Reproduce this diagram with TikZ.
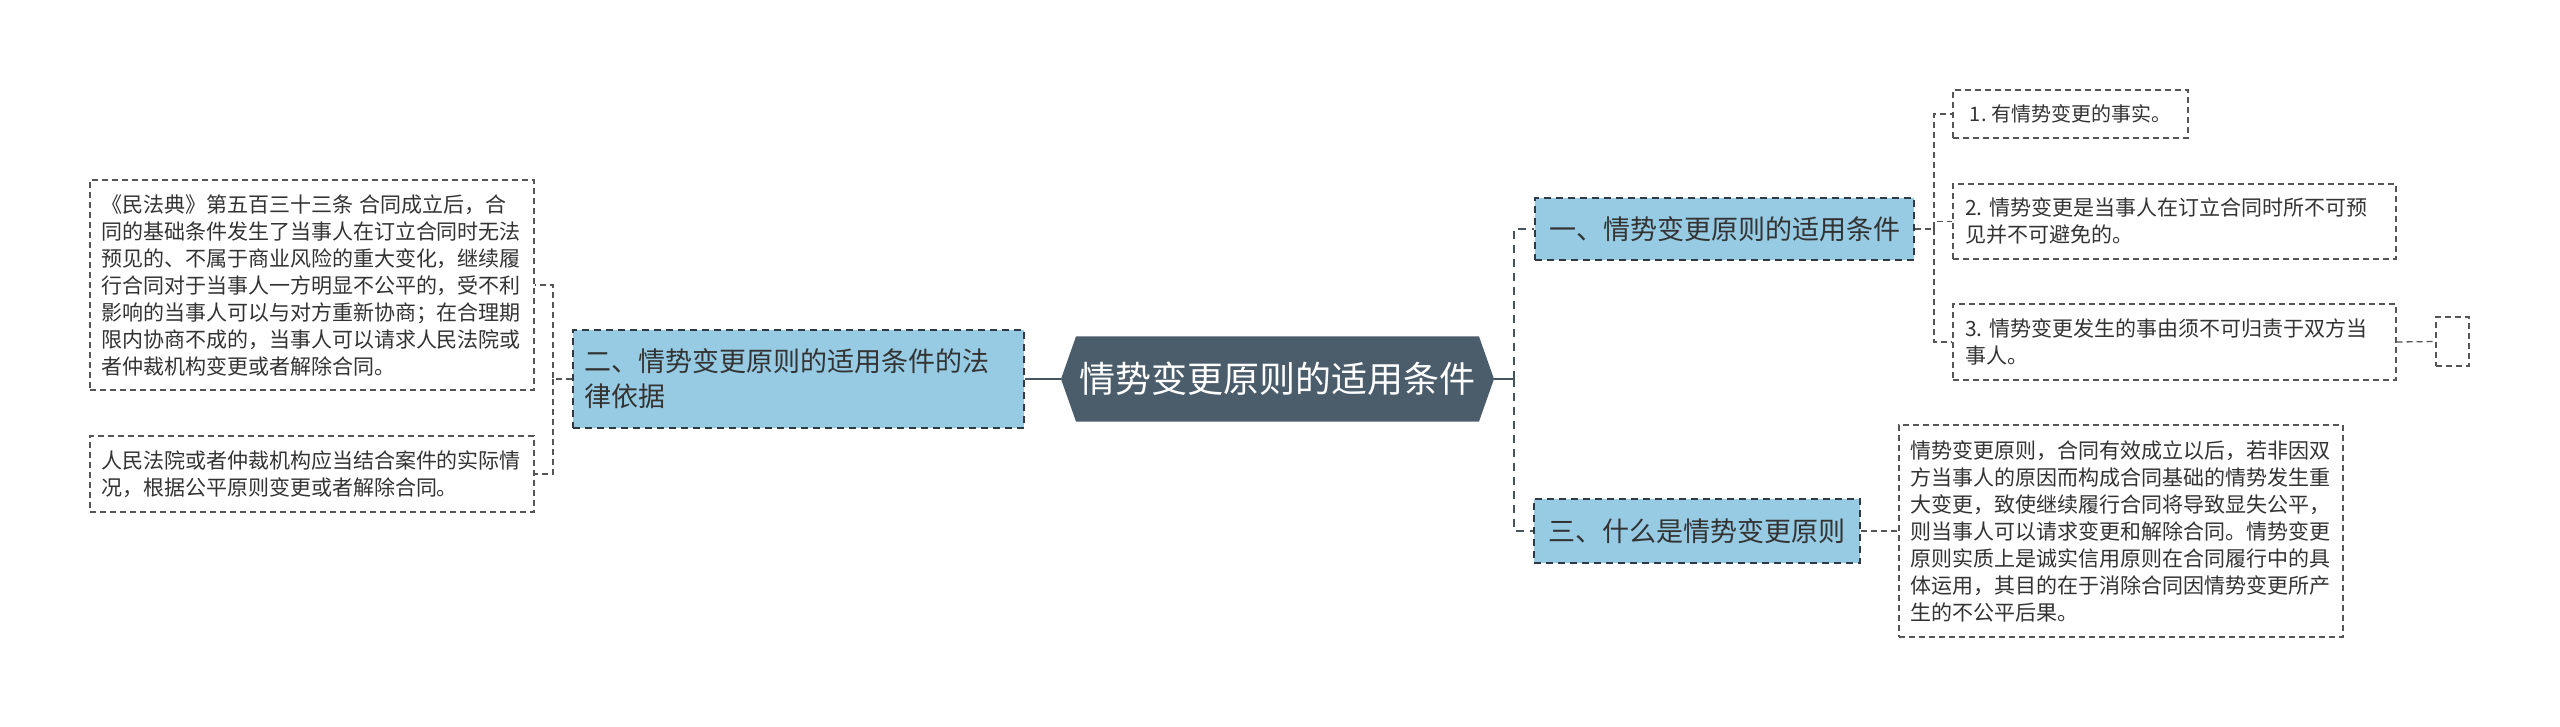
\documentclass[tikz,border=0pt]{standalone}
\usepackage{fontspec}
\newfontfamily\cjk{Noto Sans CJK SC}
\frenchspacing
\definecolor{centralfill}{HTML}{4B5C6B}
\definecolor{lvlfill}{HTML}{96CBE3}
\definecolor{lvlborder}{HTML}{2E3B45}
\definecolor{leafborder}{HTML}{555555}
\definecolor{txt}{HTML}{333333}
\definecolor{mainline}{HTML}{46545F}
\definecolor{subline}{HTML}{555555}
\tikzset{
  central/.style={rectangle, inner sep=0pt, minimum width=433pt, minimum height=85pt,
    text=white, font=\cjk\fontsize{36}{40}\selectfont,
    path picture={\fill[centralfill] (path picture bounding box.west)
      -- ([xshift=15pt]path picture bounding box.north west)
      -- ([xshift=-15pt]path picture bounding box.north east)
      -- (path picture bounding box.east)
      -- ([xshift=-15pt]path picture bounding box.south east)
      -- ([xshift=15pt]path picture bounding box.south west) -- cycle;}},
  lvl/.style={rectangle, draw=lvlborder, line width=1.8pt, dash pattern=on 7pt off 5pt,
    fill=lvlfill, text=txt, inner xsep=11pt, inner ysep=0pt,
    font=\cjk\fontsize{27}{35}\selectfont},
  leaf/.style={rectangle, draw=leafborder, line width=1.3pt, dash pattern=on 6pt off 4pt,
    fill=white, text=txt, inner xsep=11pt, inner ysep=0pt, align=left,
    font=\cjk\fontsize{21}{27}\selectfont},
  mainconn/.style={draw=mainline, line width=2.2pt},
  maindash/.style={draw=mainline, line width=2.6pt, dash pattern=on 8pt off 6pt},
  subconn/.style={draw=subline, line width=1.3pt, dash pattern=on 6pt off 4pt},
}
\begin{document}
\begin{tikzpicture}[x=1pt,y=-1pt]
\useasboundingbox (0,0) rectangle (2560,727);
% central
\node[central] (c) at (1277.5,379) {情势变更原则的适用条件};
% level 1
\node[lvl, minimum width=451pt, minimum height=98pt, text width=429pt, align=left] (l1) at (798.5,379)
  {二、情势变更原则的适用条件的法\\律依据};
\node[lvl, minimum width=379pt, minimum height=62pt, align=center] (r1) at (1724.5,229)
  {一、情势变更原则的适用条件};
\node[lvl, minimum width=326pt, minimum height=64pt, align=center] (r3) at (1697,531)
  {三、什么是情势变更原则};
% left leaves
\node[leaf, minimum width=444pt, minimum height=210pt, text width=422pt] (la) at (312,285)
  {《民法典》第五百三十三条 合同成立后，合\\
   同的基础条件发生了当事人在订立合同时无法\\
   预见的、不属于商业风险的重大变化，继续履\\
   行合同对于当事人一方明显不公平的，受不利\\
   影响的当事人可以与对方重新协商；在合理期\\
   限内协商不成的，当事人可以请求人民法院或\\
   者仲裁机构变更或者解除合同。};
\node[leaf, minimum width=444pt, minimum height=76pt, text width=422pt] (lb) at (312,474)
  {人民法院或者仲裁机构应当结合案件的实际情\\况，根据公平原则变更或者解除合同。};
% right leaves of r1
\node[leaf, minimum width=235pt, minimum height=48pt, inner xsep=0pt,
      font=\cjk\fontsize{20}{27}\selectfont] (q1) at (2070.5,114)
  {1. 有情势变更的事实。};
\node[leaf, minimum width=443pt, minimum height=75pt, text width=419pt, inner xsep=12pt] (q2) at (2174.5,221.5)
  {2. 情势变更是当事人在订立合同时所不可预\\见并不可避免的。};
\node[leaf, minimum width=443pt, minimum height=76pt, text width=419pt, inner xsep=12pt] (q3) at (2174.5,342)
  {3. 情势变更发生的事由须不可归责于双方当\\事人。};
\node[leaf, minimum width=33pt, minimum height=49pt, inner xsep=0pt] (q4) at (2452.5,341.5) {};
% right leaf of r3
\node[leaf, minimum width=444pt, minimum height=212pt, text width=422pt] (p1) at (2121,531)
  {情势变更原则，合同有效成立以后，若非因双\\
   方当事人的原因而构成合同基础的情势发生重\\
   大变更，致使继续履行合同将导致显失公平，\\
   则当事人可以请求变更和解除合同。情势变更\\
   原则实质上是诚实信用原则在合同履行中的具\\
   体运用，其目的在于消除合同因情势变更所产\\
   生的不公平后果。};
% connectors
\coordinate (jr) at (1514,379);
\coordinate (jl) at (553,379);
\coordinate (jr1) at (1934,229);
\draw[mainconn] (c.west) -- (l1.east);
\draw[mainconn] (c.east) -- (jr);
\draw[maindash] (jr) |- (r1.west);
\draw[maindash] (jr) |- (r3.west);
\draw[subconn] (l1.west) -- (jl) |- (la.east);
\draw[subconn] (jl) |- (lb.east);
\draw[subconn] (r1.east) -- (jr1) |- (q1.west);
\draw[subconn] (jr1) |- (q2.west);
\draw[subconn] (jr1) |- (q3.west);
\draw[subconn] (q3.east) -- (q4.west);
\draw[subconn] (r3.east) -- (p1.west);
\end{tikzpicture}
\end{document}
